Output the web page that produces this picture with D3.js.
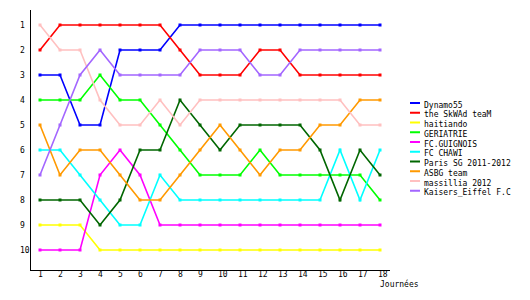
<!DOCTYPE html>
<html>
<head>
<meta charset="utf-8">
<script src="https://cdn.jsdelivr.net/npm/d3@7"></script>
<style>
  body { margin: 0; background: #fff; }
  text { font-family: "DejaVu Sans Mono", monospace; font-size: 8px; fill: #000; }
</style>
</head>
<body>
<div id="chart"></div>
<script>
const rounds = d3.range(1, 19)
const ranks = d3.range(1, 11)

const teams = ['Dynamo55', 'the SkWAd teaM', 'haitiando', 'GERIATRIE', 'FC.GUIGNOIS',
    'FC CHAWI', 'Paris SG 2011-2012', 'ASBG team', 'massillia 2012', 'Kaisers_Eiffel F.C']
const colors = ['#0000ff', '#ff0000', '#ffff00', '#00ff00', '#ff00ff',
    '#00ffff', '#006600', '#ff9900', '#ffc0c0', '#a366ff']

// classement par journée
const dynamo55  = [3, 3, 5, 5, 2, 2, 2, 1, 1, 1, 1, 1, 1, 1, 1, 1, 1, 1]
const skwad     = [2, 1, 1, 1, 1, 1, 1, 2, 3, 3, 3, 2, 2, 3, 3, 3, 3, 3]
const haitiando = [9, 9, 9, 10, 10, 10, 10, 10, 10, 10, 10, 10, 10, 10, 10, 10, 10, 10]
const geriatrie = [4, 4, 4, 3, 4, 4, 5, 6, 7, 7, 7, 6, 7, 7, 7, 7, 7, 8]
const guignois  = [10, 10, 10, 7, 6, 7, 9, 9, 9, 9, 9, 9, 9, 9, 9, 9, 9, 9]
const chawi     = [6, 6, 7, 8, 9, 9, 7, 8, 8, 8, 8, 8, 8, 8, 8, 6, 8, 6]
const parisSG   = [8, 8, 8, 9, 8, 6, 6, 4, 5, 6, 5, 5, 5, 5, 6, 8, 6, 7]
const asbg      = [5, 7, 6, 6, 7, 8, 8, 7, 6, 5, 6, 7, 6, 6, 5, 5, 4, 4]
const massillia = [1, 2, 2, 4, 5, 5, 4, 5, 4, 4, 4, 4, 4, 4, 4, 4, 5, 5]
const kaisers   = [7, 5, 3, 2, 3, 3, 3, 3, 2, 2, 2, 3, 3, 2, 2, 2, 2, 2]

const series = [dynamo55, skwad, haitiando, geriatrie, guignois,
    chawi, parisSG, asbg, massillia, kaisers]

const WIDTH = 530, HEIGHT = 300

const svg = d3.select('#chart').append('svg')
    .attr('width', WIDTH)
    .attr('height', HEIGHT)

const x = d3.scaleLinear().domain([1, 18]).range([40, 380])
const y = d3.scaleLinear().domain([1, 10]).range([25, 250])

// axes
svg.append('line')
    .attr('x1', 30.5).attr('x2', 30.5)
    .attr('y1', 10).attr('y2', 270.5)
    .attr('stroke', '#000')
svg.append('line')
    .attr('x1', 30).attr('x2', 390)
    .attr('y1', 270.5).attr('y2', 270.5)
    .attr('stroke', '#000')

svg.selectAll('.ylab')
    .data(ranks)
    .enter().append('text')
    .attr('class', 'ylab')
    .attr('x', 20)
    .attr('y', d => y(d) + 3)
    .text(d => d)

svg.selectAll('.xlab')
    .data(rounds)
    .enter().append('text')
    .attr('class', 'xlab')
    .attr('x', d => x(d) - 2)
    .attr('y', 277)
    .text(d => d)

svg.append('text')
    .attr('x', 380)
    .attr('y', 287)
    .text('Journées')

const line = d3.line()
    .x((d, i) => x(i + 1))
    .y(d => y(d))

series.forEach((s, k) => {
    svg.append('path')
        .datum(s)
        .attr('d', line)
        .attr('fill', 'none')
        .attr('stroke', colors[k])
        .attr('stroke-width', 1.6)

    svg.selectAll('.pt' + k)
        .data(s)
        .enter().append('rect')
        .attr('x', (d, i) => x(i + 1) - 1.5)
        .attr('y', d => y(d) - 1.5)
        .attr('width', 3)
        .attr('height', 3)
        .attr('fill', colors[k])
})

// legende
const legend = svg.append('g')
teams.forEach((t, i) => {
    const ly = 102 + i * 9.75
    legend.append('rect')
        .attr('x', 410)
        .attr('y', ly)
        .attr('width', 10)
        .attr('height', 2)
        .attr('fill', colors[i])
    legend.append('text')
        .attr('x', 424)
        .attr('y', ly + 5.5)
        .text(t)
})
</script>
</body>
</html>
